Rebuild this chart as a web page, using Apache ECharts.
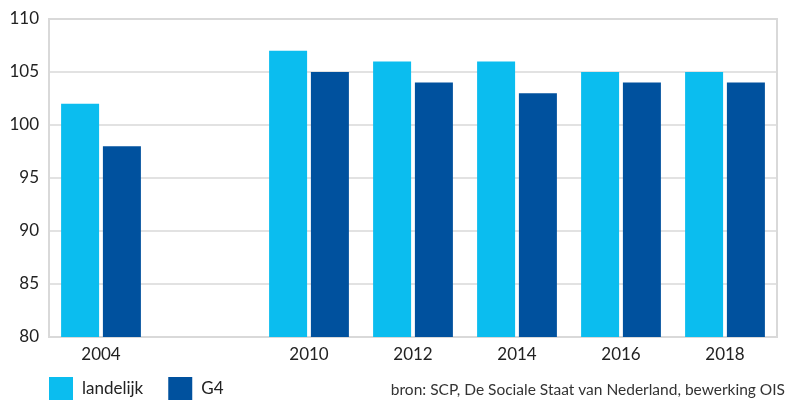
<!DOCTYPE html>
<html><head><meta charset="utf-8">
<script src="https://cdn.jsdelivr.net/npm/echarts@6/dist/echarts.min.js"></script>
<style>html,body{margin:0;padding:0;background:#fff}#c{width:798px;height:401px}</style>
</head><body><div id="c"></div>
<script>
const categories = ['2004', '', '2010', '2012', '2014', '2016', '2018'];
const landelijk = [102, null, 107, 106, 106, 105, 105];
const g4 = [98, null, 105, 104, 103, 104, 104];
const yTicks = [80, 85, 90, 95, 100, 105, 110];
const sourceText = 'bron: SCP, De Sociale Staat van Nederland, bewerking OIS';

const chart = echarts.init(document.getElementById('c'));
chart.setOption({
  animation: false,
  textStyle: { fontFamily: 'Lato' },
  grid: { left: 49, right: 21, top: 19, bottom: 64, show: true, borderColor: '#d9d9d9', borderWidth: 2 },
  legend: {
    left: 44, top: 372, itemWidth: 24, itemHeight: 23, itemGap: 25,
    icon: 'rect',
    textStyle: { fontSize: 17, color: '#222', fontFamily: 'Lato', padding: [0, 0, 0, 4] },
    data: ['landelijk', 'G4']
  },
  graphic: [{
    type: 'text', right: 13, top: 382,
    style: { text: sourceText, fontSize: 15.5, fill: '#333', fontFamily: 'Lato' }
  }],
  xAxis: {
    type: 'category', data: categories,
    axisLine: { lineStyle: { color: '#d9d9d9', width: 2 } },
    axisTick: { show: false },
    axisLabel: { color: '#222', fontSize: 17, margin: 9, fontFamily: 'Lato' }
  },
  yAxis: {
    type: 'value', min: yTicks[0], max: yTicks[yTicks.length - 1], interval: 5,
    axisLine: { show: false }, axisTick: { show: false },
    axisLabel: { color: '#222', fontSize: 17, margin: 10, fontFamily: 'Lato' },
    splitLine: { lineStyle: { color: '#d9d9d9', width: 1.5 } }
  },
  series: [
    { name: 'landelijk', type: 'bar', data: landelijk, barWidth: 38, barGap: '10%', itemStyle: { color: '#0BBDEF' } },
    { name: 'G4', type: 'bar', data: g4, barWidth: 38, itemStyle: { color: '#00519E' } }
  ]
});
</script></body></html>
